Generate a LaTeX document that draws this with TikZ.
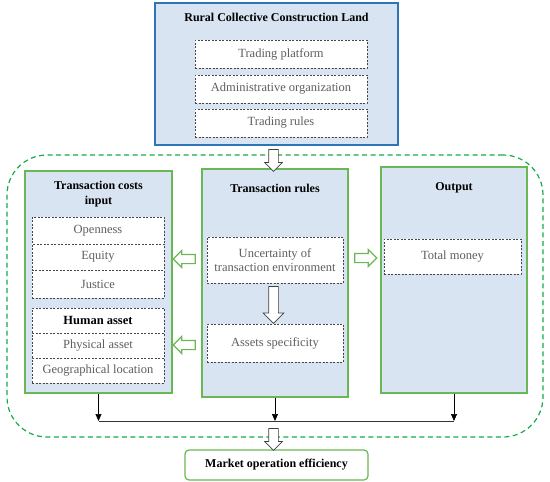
\documentclass[tikz,border=0pt]{standalone}
\usepackage{fontspec}
\setmainfont{Liberation Serif}
\usetikzlibrary{arrows.meta,shapes.arrows}
\definecolor{boxblue}{RGB}{216,228,242}
\definecolor{topblue}{RGB}{46,117,182}
\definecolor{boxgreen}{RGB}{106,184,84}
\definecolor{framegreen}{RGB}{20,172,72}
\definecolor{itemgrey}{RGB}{70,70,70}
\definecolor{textgrey}{RGB}{95,95,95}
\begin{document}
\begin{tikzpicture}[
    x=1pt,y=-1pt,
    font=\fontsize{12.5}{14}\selectfont,
    panel/.style={draw=boxgreen,line width=1.2pt,fill=boxblue,inner sep=0pt},
    title/.style={font=\fontsize{12}{15}\selectfont\bfseries,align=center},
    item/.style={draw=itemgrey,line width=0.8pt,dash pattern=on 2pt off 1.5pt,fill=white,
        text=textgrey,inner sep=0pt,align=center},
    hollow/.style={single arrow,draw=black!75,fill=white,line width=0.7pt,inner sep=4.5,
        single arrow head extend=4},
    greenarr/.style={hollow,draw=boxgreen,line width=1.2pt,minimum height=22,inner sep=4},
    arr/.style={-{Triangle[length=7,width=6]},line width=0.7pt},
    joinline/.style={line width=0.9pt,draw=black!80}
]
\useasboundingbox (0,0) rectangle (550,482);

\node[draw=topblue,line width=1.4pt,fill=boxblue,minimum width=243,minimum height=142] (rural) at (276.5,74) {};
\node[title] (ruralt) at (276.5,17) {Rural Collective Construction Land};
\node[item,minimum width=172,minimum height=28] (platform) at (281,54) {Trading platform};
\node[item,minimum width=172,minimum height=28] (admin) at (281,89) {Administrative organization};
\node[item,minimum width=172,minimum height=28] (trules) at (281,123) {Trading rules};

\node[draw=framegreen,line width=1.2pt,dash pattern=on 5pt off 3.5pt,rounded corners=40,
    minimum width=536,minimum height=282] (frame) at (275,296) {};

\node[panel,minimum width=147,minimum height=222] (costs) at (98.5,282) {};
\node[title] (costst) at (98.5,194) {Transaction costs\\input};
\node[item,minimum width=132,minimum height=27] (open) at (98,230.5) {Openness};
\node[item,minimum width=132,minimum height=26] (equity) at (98,257) {Equity};
\node[item,minimum width=132,minimum height=28] (justice) at (98,284) {Justice};
\node[item,minimum width=132,minimum height=25,text=black,font=\fontsize{12.5}{14}\selectfont\bfseries] (human) at (98,320.5) {Human asset};
\node[item,minimum width=132,minimum height=25] (physical) at (98,345.5) {Physical asset};
\node[item,minimum width=132,minimum height=25] (geo) at (98,370.5) {Geographical location};

\node[panel,minimum width=146,minimum height=228] (rules) at (275,283) {};
\node[title] (rulest) at (275,188) {Transaction rules};
\node[item,minimum width=136,minimum height=46] (uncert) at (275,260) {Uncertainty of\\transaction environment};
\node[item,minimum width=136,minimum height=38] (assets) at (275,343) {Assets specificity};

\node[panel,minimum width=146,minimum height=226] (output) at (454,280) {};
\node[title] (outputt) at (454,188) {Output};
\node[item,minimum width=137,minimum height=35] (money) at (452.5,256.5) {Total money};

\node[draw=boxgreen,line width=1.2pt,rounded corners=4,minimum width=183,minimum height=30] (market) at (276.5,465) {};
\node[title] (markett) at (276.5,465) {Market operation efficiency};

\node[hollow,rotate=-90,minimum height=22] (down1) at (273.5,158) {};
\node[hollow,rotate=-90,minimum height=37,single arrow head extend=5.5] (down2) at (273.5,302.5) {};
\node[hollow,rotate=-90,minimum height=22] (down3) at (273.5,437) {};
\node[greenarr,rotate=180] (toinput) at (186.5,259) {};
\node[greenarr,rotate=180] (toasset) at (186.5,345) {};
\node[greenarr] (tooutput) at (363.5,258) {};

\coordinate (joinL) at (98.5,421);
\coordinate (joinM) at (275,421);
\coordinate (joinR) at (454,421);
\draw[arr] (costs.south) -- (joinL);
\draw[arr] (rules.south) -- (joinM);
\draw[arr] (output.south) -- (joinR);
\draw[joinline] (joinL) -- (joinR);
\end{tikzpicture}
\end{document}
